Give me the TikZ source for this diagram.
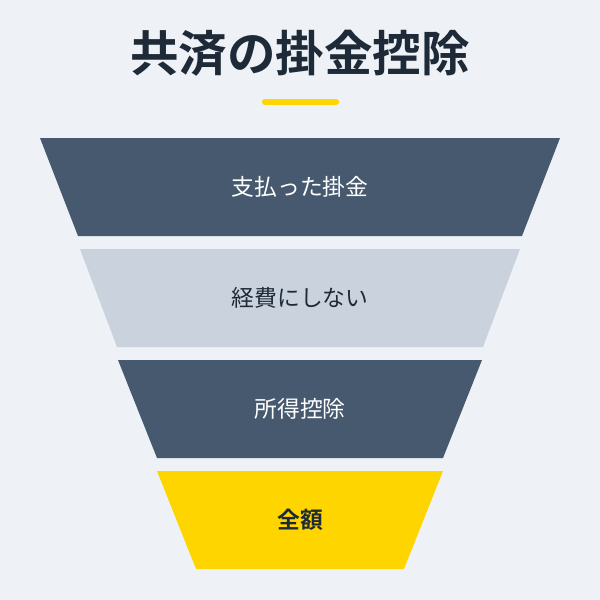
\documentclass[tikz,border=0pt]{standalone}
\usepackage{fontspec}
\usepackage{tikz}
\usetikzlibrary{positioning}
\newfontfamily\jpfont{Noto Sans CJK JP}[BoldFont={Noto Sans CJK JP Bold}]
\definecolor{pagebg}{RGB}{238,242,247}
\definecolor{slateband}{RGB}{70,89,110}
\definecolor{paleband}{RGB}{202,210,221}
\definecolor{goldband}{RGB}{255,213,0}
\definecolor{inkdark}{RGB}{30,42,56}

\begin{document}
\begin{tikzpicture}[x=0.025cm, y=-0.025cm,
    bandlabel/.style={font=\jpfont\fontsize{16.2pt}{19pt}\selectfont, inner sep=0pt}]
        % Background
        \fill[pagebg] (0,0) rectangle (600,600);
        \useasboundingbox (0,0) rectangle (600,600);

        % Title
        \node[font=\jpfont\bfseries\fontsize{34.5pt}{40pt}\selectfont, text=inkdark, inner sep=0pt] (title) at (300,53) {共済の掛金控除};
        \draw[line width=4.5pt, goldband, line cap=round] (265,102) -- (336,102);

        % Funnel bands
        \fill[slateband] (40,138) -- (560,138) -- (522,236) -- (78,236) -- cycle;
        \fill[paleband] (80,249) -- (520,249) -- (483,347) -- (117,347) -- cycle;
        \fill[slateband] (118,360) -- (482,360) -- (443,458) -- (157,458) -- cycle;
        \fill[goldband] (157,471) -- (443,471) -- (404,569) -- (196,569) -- cycle;

        % Labels
        \node[bandlabel, text=white] (paid) at (300,187) {支払った掛金};
        \node[bandlabel, text=inkdark] (noexpense) at (300,298) {経費にしない};
        \node[bandlabel, text=white] (deduction) at (300,409) {所得控除};
        \node[bandlabel, text=inkdark, font=\jpfont\bfseries\fontsize{16.2pt}{19pt}\selectfont] (fullsum) at (300,520) {全額};
    \end{tikzpicture}
\end{document}
